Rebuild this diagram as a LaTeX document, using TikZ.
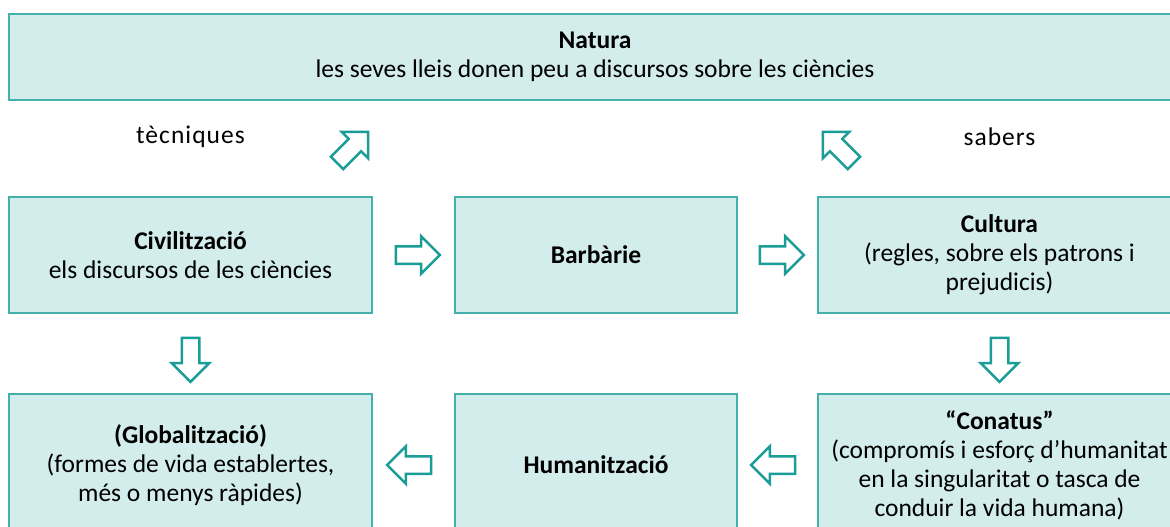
\documentclass[tikz,border=0pt]{standalone}
\usepackage{fontspec}
\setmainfont{Carlito}
\newfontfamily\spacedfont[LetterSpace=4]{Carlito}
\usepackage{tikz}
\usetikzlibrary{calc,positioning,shapes.arrows}
\definecolor{boxfill}{HTML}{D3ECEC}
\definecolor{boxline}{HTML}{45B1AC}
\definecolor{arrline}{HTML}{1A9D97}
\tikzset{%
	box/.style      = {draw=boxline, fill=boxfill, line width=1.5pt, rectangle, align=center, inner sep=0pt, outer sep=0pt, font=\fontsize{25.5}{29}\selectfont}, % Concept
	rowa/.style     = {box, minimum width=363pt, minimum height=116pt},
	rowb/.style     = {box, minimum width=363pt, minimum height=142pt},
	label/.style    = {font=\spacedfont\fontsize{25.5}{29}\selectfont}, % Free text
	barrow/.style   = {draw=arrline, fill=white, line width=2.5pt, single arrow, single arrow head extend=10pt, inner xsep=0pt, inner ysep=7.5pt, minimum height=44pt}, % Block arrow
}

\begin{document}
\begin{tikzpicture}[x=1pt,y=-1pt]
	\useasboundingbox (0,0) rectangle (1170,527);
	\node [box,minimum width=1172pt,minimum height=86pt] (nat) at (595,57) {\textbf{Natura}\\les seves lleis donen peu a discursos sobre les ciències};

	\node [rowa] (civ) at (190.5,255) {\textbf{Civilització}\\els discursos de les ciències};
	\node [rowa,minimum width=282pt] (barb) [right=83pt of civ] {\textbf{Barbàrie}};
	\node [rowa] (cult) [right=81pt of barb] {\textbf{Cultura}\\(regles, sobre els patrons i\\prejudicis)};

	\node [rowb] (glob) [below=81pt of civ] {\textbf{(Globalització)}\\(formes de vida establertes,\\més o menys ràpides)};
	\node [rowb,minimum width=282pt] (hum) [below=81pt of barb] {\textbf{Humanització}};
	\node [rowb] (con) [below=81pt of cult] {\textbf{“Conatus”}\\(compromís i esforç d’humanitat\\en la singularitat o tasca de\\conduir la vida humana)};

	\node [label] (tec) at (190.5,137) {tècniques};
	\node [label] (sab) at (999.5,137) {sabers};

	\node [barrow,rotate=45] (civnat) at (349.5,150.5) {};
	\node [barrow,rotate=135] (cultnat) at (841.5,150.5) {};
	\node [barrow] (civbarb) at ($(civ.east)!0.5!(barb.west)$) {};
	\node [barrow] (barbcult) at ($(barb.east)!0.5!(cult.west)$) {};
	\node [barrow,rotate=-90] (civglob) at ($(civ.south)!0.5!(glob.north)+(0,2)$) {};
	\node [barrow,rotate=-90] (cultcon) at ($(cult.south)!0.5!(con.north)+(0,2)$) {};
	\node [barrow,rotate=180] (conhum) at ($(hum.east)!0.5!(con.west)$) {};
	\node [barrow,rotate=180] (humglob) at ($(glob.east)!0.5!(hum.west)$) {};
\end{tikzpicture}
\end{document}
